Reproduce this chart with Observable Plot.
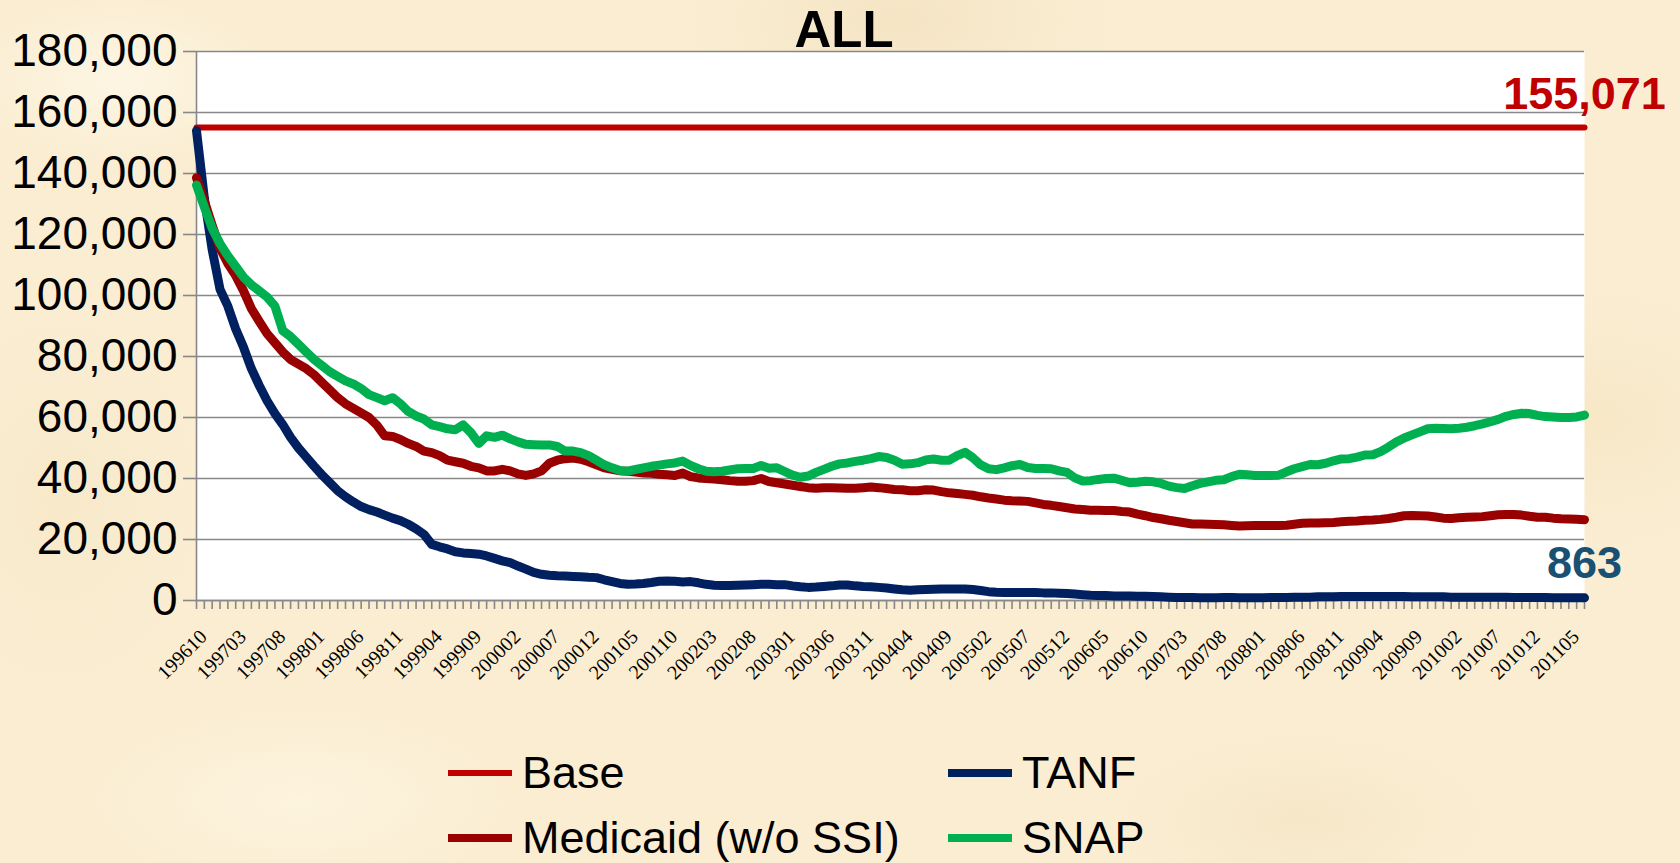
<!DOCTYPE html>
<html>
<head>
<meta charset="utf-8">
<script src="https://cdn.jsdelivr.net/npm/d3@7"></script>
<script src="https://cdn.jsdelivr.net/npm/@observablehq/plot@0.6"></script>
<style>
  html, body { margin: 0; padding: 0; }
  body {
    width: 1680px; height: 863px; overflow: hidden; position: relative;
    background-color: #FAEDD2;
    background-image:
      radial-gradient(ellipse 220px 120px at 120px 80px, rgba(255,250,235,0.7), rgba(255,250,235,0) 70%),
      radial-gradient(ellipse 300px 160px at 900px 20px, rgba(240,222,185,0.55), rgba(240,222,185,0) 70%),
      radial-gradient(ellipse 260px 180px at 1600px 420px, rgba(245,228,192,0.6), rgba(245,228,192,0) 70%),
      radial-gradient(ellipse 320px 140px at 300px 800px, rgba(255,248,230,0.6), rgba(255,248,230,0) 70%),
      radial-gradient(ellipse 260px 120px at 1300px 820px, rgba(242,226,190,0.55), rgba(242,226,190,0) 70%),
      radial-gradient(ellipse 200px 260px at 60px 500px, rgba(246,230,196,0.6), rgba(246,230,196,0) 70%);
    font-family: "Liberation Sans", Arial, sans-serif;
  }
  #chart { position: absolute; left: 0; top: 0; }
  #title { position: absolute; left: 0; width: 1688px; top: 4px; text-align: center;
           font: bold 51px "Liberation Sans", Arial, sans-serif; line-height: 51px; color: #000; }
  .item { position: absolute; height: 60px; display: flex; align-items: center;
          font-size: 45px; color: #000; white-space: nowrap; }
  .sw { width: 64px; margin-right: 10px; }
</style>
</head>
<body>
<div id="chart"></div>
<div id="title">ALL</div>
<div id="legend"></div>
<script>
// ---------- data ----------
const startYear = 1996, startMonth = 10, monthCount = 178; // 199610 .. 201107
const months = [];
for (let k = 0; k < monthCount; k++) {
  const m0 = startMonth - 1 + k;
  const yr = startYear + Math.floor(m0 / 12);
  const mo = (m0 % 12) + 1;
  months.push(String(yr) + String(mo).padStart(2, "0"));
}

const tickLabels = ["199610","199703","199708","199801","199806","199811","199904","199909",
  "200002","200007","200012","200105","200110","200203","200208","200301","200306","200311",
  "200404","200409","200502","200507","200512","200605","200610","200703","200708","200801",
  "200806","200811","200904","200909","201002","201007","201012","201105"];

const yTicks = [0, 20000, 40000, 60000, 80000, 100000, 120000, 140000, 160000, 180000];

const baseValue = 155071;

const tanf = [154000,132000,115000,102000,96500,89000,83000,76000,70500,65500,
61300,57700,53500,50000,47000,44000,41200,38600,36000,34000,
32300,30800,29800,29000,28000,27000,26200,25000,23500,21700,
18400,17600,16900,16000,15600,15400,15200,14600,13800,13000,
12400,11300,10300,9200,8600,8300,8100,8000,7900,7800,
7600,7500,6800,6200,5600,5300,5400,5600,5900,6300,
6400,6300,6100,6200,5800,5300,5000,4900,4900,5000,
5100,5200,5300,5300,5200,5200,4800,4500,4300,4400,
4600,4800,5100,5100,4800,4600,4500,4300,4100,3800,
3500,3400,3500,3600,3700,3800,3800,3800,3800,3600,
3300,2900,2700,2600,2600,2600,2600,2600,2500,2500,
2400,2300,2100,1900,1700,1600,1600,1500,1500,1500,
1400,1400,1300,1200,1100,1000,1000,1000,900,900,
900,1000,1000,900,900,900,900,1000,1000,1000,
1100,1100,1100,1200,1200,1200,1300,1300,1300,1300,
1300,1300,1300,1300,1300,1200,1200,1200,1200,1200,
1100,1100,1100,1100,1100,1100,1100,1100,1000,1000,
1000,1000,1000,900,900,900,900,863];

const medicaid = [138600,131000,123000,115500,110500,106500,101500,95700,91500,87500,
84500,81500,79000,77500,76000,74000,71500,69000,66500,64500,
63000,61500,60000,57500,54000,53800,52800,51500,50500,49000,
48500,47500,46000,45500,45000,44000,43500,42500,42500,43000,
42500,41500,41000,41500,42500,45000,46000,46500,46700,46300,
45500,44500,43500,43000,42500,42400,42100,41800,41700,41400,
41200,41000,41800,40600,40200,40000,39800,39600,39300,39100,
39100,39300,40000,39000,38600,38200,37800,37400,37000,36800,
37000,37000,36900,36800,36800,37000,37200,37000,36700,36400,
36300,36000,36000,36300,36200,35700,35300,35100,34800,34500,
34000,33600,33300,32900,32700,32600,32500,32000,31500,31200,
30800,30400,30000,29800,29600,29600,29500,29500,29200,29000,
28300,27800,27200,26800,26300,25900,25500,25100,25100,25000,
24900,24800,24600,24400,24500,24600,24600,24600,24600,24700,
25000,25300,25400,25400,25500,25600,25800,26000,26100,26300,
26400,26600,26900,27300,27800,27900,27800,27700,27400,27000,
26900,27100,27300,27400,27500,27800,28100,28200,28200,28000,
27600,27300,27300,27000,26800,26700,26600,26500];

const snap = [136200,129000,122000,117000,113000,109500,106000,103500,101500,99500,
96500,88500,86500,84000,81500,79000,77000,75000,73500,72000,
71000,69500,67500,66500,65500,66500,64500,62000,60500,59500,
57600,57000,56300,56000,57600,55000,51500,54000,53500,54200,
53000,52000,51200,51100,51000,51000,50500,49000,49000,48500,
47500,46000,44500,43500,42600,42400,43000,43500,44000,44400,
44800,45100,45700,44300,43200,42400,42200,42400,42800,43200,
43300,43300,44300,43400,43500,42300,41100,40400,40800,42000,
43000,44000,44800,45100,45600,46000,46500,47200,46900,46000,
44700,44800,45200,46100,46400,46000,46000,47500,48600,46800,
44500,43200,42900,43500,44200,44600,43600,43300,43300,43200,
42500,42000,40200,39200,39300,39700,40000,40100,39400,38600,
38800,39100,38900,38400,37500,37000,36700,37600,38400,38900,
39400,39600,40600,41400,41200,41000,41000,41000,41100,42200,
43200,43900,44600,44500,45000,45800,46400,46500,47000,47700,
47800,48800,50300,52000,53300,54300,55300,56300,56500,56400,
56300,56500,56800,57300,57900,58600,59400,60400,61000,61400,
61300,60700,60300,60200,60000,60000,60200,60800];

const seriesNames = ["Base", "TANF", "Medicaid (w/o SSI)", "SNAP"];
const seriesColors = ["#C00000", "#002060", "#990000", "#00B050"];

// ---------- tables ----------
const baseRows = months.map((m) => ({month: m, value: baseValue}));
const tanfRows = months.map((m, i) => ({month: m, value: tanf[i]}));
const medRows = months.map((m, i) => ({month: m, value: medicaid[i]}));
const snapRows = months.map((m, i) => ({month: m, value: snap[i]}));

const fmt = d3.format(",");

const chart = Plot.plot({
  width: 1680,
  height: 700,
  marginLeft: 196,
  marginRight: 96,
  marginTop: 51,
  marginBottom: 100,
  style: {background: "transparent", fontFamily: "'Liberation Sans', Arial, sans-serif", overflow: "visible"},
  x: {type: "point", domain: months, padding: 0, label: null},
  y: {domain: [0, 180000], label: null},
  marks: [
    Plot.frame({fill: "white", stroke: null}),
    Plot.gridY({ticks: yTicks, stroke: "#888", strokeOpacity: 1, strokeWidth: 1.6}),
    Plot.axisY({ticks: yTicks, tickSize: 13, text: null, label: null, stroke: "#888", strokeWidth: 1.6}),
    Plot.axisY({ticks: yTicks, tickSize: 0, tickPadding: 19, tickFormat: fmt, label: null, fontSize: 46, fill: "#000"}),
    Plot.axisX({ticks: months, tickSize: 9, text: null, label: null, stroke: "#888", strokeWidth: 1.6}),
    Plot.axisX({ticks: tickLabels, tickSize: 0, tickPadding: 33, tickRotate: -45, label: null,
      textAnchor: "end", lineAnchor: "middle", dx: 7,
      fontSize: 20, fontFamily: "'Liberation Serif', 'Times New Roman', serif", fill: "#000"}),
    Plot.ruleX([months[0]], {stroke: "#888", strokeWidth: 1.6}),
    Plot.ruleY([0], {stroke: "#888", strokeWidth: 1.6}),
    Plot.line(baseRows, {x: "month", y: "value", stroke: seriesColors[0], strokeWidth: 6}),
    Plot.line(tanfRows, {x: "month", y: "value", stroke: seriesColors[1], strokeWidth: 9, strokeLinejoin: "round"}),
    Plot.line(medRows, {x: "month", y: "value", stroke: seriesColors[2], strokeWidth: 9, strokeLinejoin: "round"}),
    Plot.line(snapRows, {x: "month", y: "value", stroke: seriesColors[3], strokeWidth: 9, strokeLinejoin: "round"}),
    Plot.text([baseRows[baseRows.length - 1]], {x: "month", y: "value", text: (d) => fmt(d.value),
      fill: "#C00000", fontSize: 45, fontWeight: "bold", textAnchor: "middle", lineAnchor: "bottom", dy: -19}),
    Plot.text([tanfRows[tanfRows.length - 1]], {x: "month", y: "value", text: (d) => fmt(d.value),
      fill: "#1A5072", fontSize: 45, fontWeight: "bold", textAnchor: "middle", lineAnchor: "bottom", dy: -20})
  ]
});
document.getElementById("chart").appendChild(chart);

// ---------- legend ----------
const legendItems = [
  {name: seriesNames[0], color: seriesColors[0], h: 6, left: 448, cy: 773},
  {name: seriesNames[1], color: seriesColors[1], h: 8, left: 948, cy: 773},
  {name: seriesNames[2], color: seriesColors[2], h: 8, left: 448, cy: 838},
  {name: seriesNames[3], color: seriesColors[3], h: 8, left: 948, cy: 838}
];
const legend = document.getElementById("legend");
for (const it of legendItems) {
  const div = document.createElement("div");
  div.className = "item";
  div.style.left = it.left + "px";
  div.style.top = (it.cy - 30) + "px";
  const sw = document.createElement("span");
  sw.className = "sw";
  sw.style.height = it.h + "px";
  sw.style.background = it.color;
  const tx = document.createElement("span");
  tx.textContent = it.name;
  div.appendChild(sw);
  div.appendChild(tx);
  legend.appendChild(div);
}
</script>
</body>
</html>
